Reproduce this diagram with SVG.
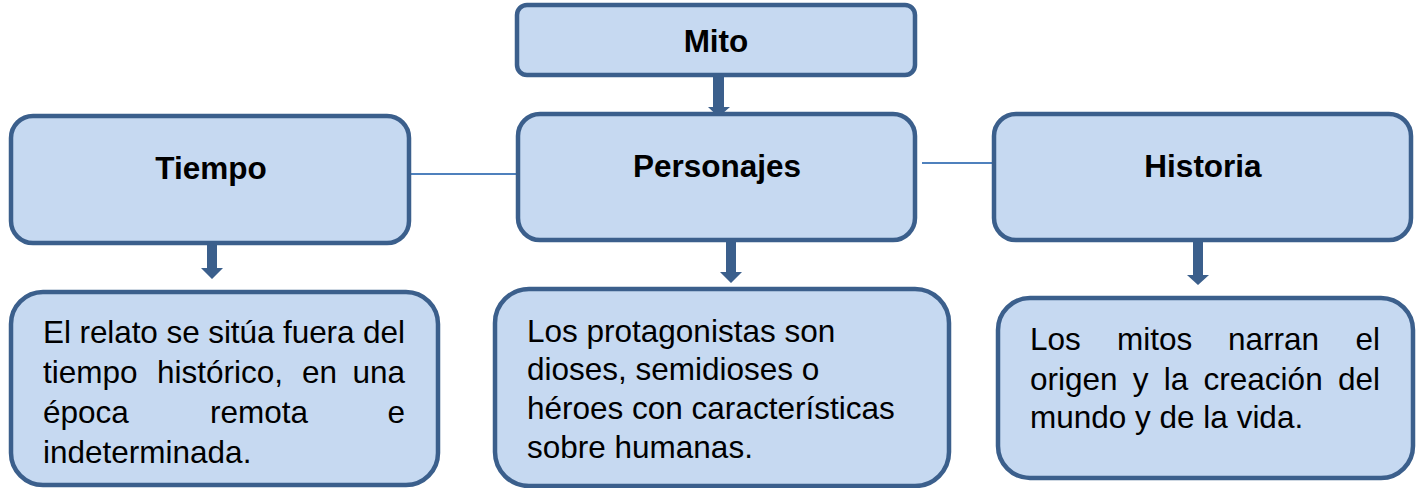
<svg xmlns="http://www.w3.org/2000/svg" width="1420" height="488" viewBox="0 0 1420 488">
<style>
.box{fill:#c6d9f1;stroke:#3b5f8c;stroke-width:4.5}
.title{font-family:"Liberation Sans",Arial,sans-serif;font-weight:bold;font-size:31.5px;fill:#000;text-anchor:middle}
.body{font-family:"Liberation Sans",Arial,sans-serif;font-size:31.5px;fill:#000}
.end{text-anchor:end}
.arrow{fill:#3b5f8c}
.link{stroke:#4f81bd;stroke-width:2;fill:none}
</style>
<rect width="1420" height="488" fill="#fff"/>
<g id="connectors">
<line class="link" x1="410" y1="174" x2="517" y2="174"/>
<line class="link" x1="922" y1="163" x2="994" y2="163"/>
<polygon class="arrow" points="713,75 724,75 724,107 730,107 718.5,117 708,107 713,107"/>
<polygon class="arrow" points="207,236 217,236 217,268 223,268 212,279 201,268 207,268"/>
<polygon class="arrow" points="726,242 736,242 736,272 742,272 731,283 720,272 726,272"/>
<polygon class="arrow" points="1193,242 1203,242 1203,275 1209,275 1198,285 1187,275 1193,275"/>
</g>
<g id="mito">
<rect class="box" x="517" y="5" width="398" height="70" rx="10"/>
<text class="title" x="716" y="52">Mito</text>
</g>
<g id="tiempo">
<rect class="box" x="11" y="116" width="398" height="127" rx="22"/>
<text class="title" x="211" y="179">Tiempo</text>
</g>
<g id="personajes">
<rect class="box" x="518" y="114" width="397" height="126" rx="22"/>
<text class="title" x="717" y="177">Personajes</text>
</g>
<g id="historia">
<rect class="box" x="994" y="114" width="417" height="126" rx="22"/>
<text class="title" x="1203" y="177">Historia</text>
</g>
<g id="tiempo-desc">
<rect class="box" x="11" y="292" width="427" height="193" rx="32"/>
<text class="body" x="43" y="343" textLength="362" lengthAdjust="spacing">El relato se sitúa fuera del</text>
<text class="body" x="43" y="383">tiempo</text>
<text class="body" x="157" y="383">histórico,</text>
<text class="body" x="302" y="383">en</text>
<text class="body end" x="405" y="383">una</text>
<text class="body" x="43" y="423">época</text>
<text class="body" x="210" y="423">remota</text>
<text class="body end" x="405" y="423">e</text>
<text class="body" x="43" y="463">indeterminada.</text>
</g>
<g id="personajes-desc">
<rect class="box" x="495" y="289" width="454" height="197" rx="34"/>
<text class="body" x="527" y="342">Los protagonistas son</text>
<text class="body" x="527" y="380">dioses, semidioses o</text>
<text class="body" x="527" y="419">héroes con características</text>
<text class="body" x="527" y="458">sobre humanas.</text>
</g>
<g id="historia-desc">
<rect class="box" x="998" y="298" width="415" height="180" rx="32"/>
<text class="body" x="1030" y="350">Los</text>
<text class="body" x="1117" y="350">mitos</text>
<text class="body" x="1228" y="350">narran</text>
<text class="body end" x="1380" y="350">el</text>
<text class="body" x="1030" y="390" word-spacing="6.5">origen y la creación del</text>
<text class="body" x="1030" y="428">mundo y de la vida.</text>
</g>
</svg>
